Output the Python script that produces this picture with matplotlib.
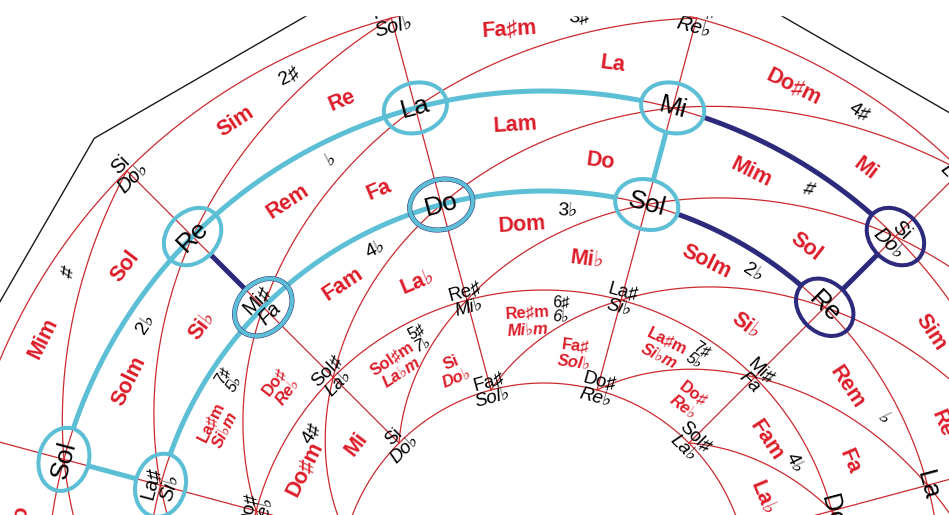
import numpy as np
import matplotlib
matplotlib.use('Agg')
import matplotlib.pyplot as plt
from matplotlib.patches import Ellipse, Polygon, Rectangle
from matplotlib import font_manager as fm

# ---------------- data ----------------
# note names around the circle of fifths (index = number of fifths above Do)
note_names = ['Do', 'Sol', 'Re', 'La', 'Mi', ('Si', 'Do♭'), ('Fa♯', 'Sol♭'), ('Do♯', 'Re♭'),
              ('Sol♯', 'La♭'), ('Re♯', 'Mi♭'), ('La♯', 'Si♭'), ('Mi♯', 'Fa')]
major_keys = ['Do', 'Sol', 'Re', 'La', 'Mi', ('Si', 'Do♭'), ('Fa♯', 'Sol♭'), ('Do♯', 'Re♭'),
              'La♭', 'Mi♭', 'Si♭', 'Fa']
minor_keys = ['Lam', 'Mim', 'Sim', 'Fa♯m', 'Do♯m', ('Sol♯m', 'La♭m'), ('Re♯m', 'Mi♭m'),
              ('La♯m', 'Si♭m'), 'Fam', 'Dom', 'Solm', 'Rem']
key_signatures = ['', '♯', '2♯', '3♯', '4♯', ('5♯', '7♭'), ('6♯', '6♭'), ('7♯', '5♭'),
                  '4♭', '3♭', '2♭', '♭']
# highlighted path: (ring, column) nodes
cyan_nodes = [(1, 0), (1, 1), (1, 2), (1, 3), (2, 0), (2, 1), (2, 2), (2, 3)]
navy_nodes = [(1, 4), (2, 4)]
mixed_nodes = [(2, 1), (2, 2)]
cyan_arcs = [(1, 0, 3), (2, 0, 3)]
navy_arcs = [(1, 3, 4), (2, 3, 4)]
cyan_radials = [0, 3]
navy_radials = [1, 4]

# ---------------- geometry ----------------
CX, CY = 544, 588
RADII = [590, 497, 397, 298, 205]
COLS = range(-2, 8)
W, H = 949, 515


def theta(j):
    return 165 - 30 * j


def P(r, th):
    a = np.deg2rad(th)
    return CX + r * np.cos(a), CY - r * np.sin(a)


RED = '#cc2a2e'
TRED = '#dc1c28'
CYAN = '#5cbfd5'
NAVY = '#2c2a7c'


def has_font(name):
    try:
        fm.findfont(fm.FontProperties(family=name), fallback_to_default=False)
        return True
    except Exception:
        return False


if has_font('Liberation Sans Narrow'):
    KFONT = ['Liberation Sans Narrow', 'DejaVu Sans']
    KSIZE, KSIZE2 = 17.5, 13.5
else:
    KFONT = ['Liberation Sans', 'DejaVu Sans']
    KSIZE, KSIZE2 = 15.5, 12
NFONT = ['Liberation Sans', 'DejaVu Sans']

fig = plt.figure(figsize=(9.49, 5.15), dpi=100)
ax = fig.add_axes([0, 0, 1, 1])
ax.set_xlim(0, W)
ax.set_ylim(H, 0)
ax.axis('off')

# outer polygon
poly = [P(636, 165 + 30 * k) for k in range(12)]
ax.add_patch(Polygon(poly, closed=True, fill=False, ec='#1a1a1a', lw=1.0, zorder=1))

# red circles
t = np.linspace(0, 360, 1441)
for r in RADII:
    x, y = P(r, t)
    ax.plot(x, y, color=RED, lw=0.9, zorder=1)

# radial lines
for j in COLS:
    x0, y0 = P(RADII[-1], theta(j))
    x1, y1 = P(RADII[0], theta(j))
    ax.plot([x0, x1], [y0, y1], color=RED, lw=0.9, zorder=1)

# diagonal (spiral) lines
s = np.linspace(0, 1, 60)
for k in range(len(RADII) - 1):
    for j in COLS:
        rr = RADII[k + 1] + (RADII[k] - RADII[k + 1]) * s
        tt = theta(j) - 30 * s
        x, y = P(rr, tt)
        ax.plot(x, y, color=RED, lw=0.9, zorder=1)


# highlighted path
def arc(ring, j0, j1, color):
    r = RADII[ring]
    d = np.rad2deg(31 / r)
    tt = np.linspace(theta(j0) - d, theta(j1) + d, 200)
    x, y = P(r, tt)
    ax.plot(x, y, color=color, lw=3.6, solid_capstyle='butt', zorder=3)


def radial(j, color):
    x0, y0 = P(RADII[1] - 25, theta(j))
    x1, y1 = P(RADII[2] + 25, theta(j))
    ax.plot([x0, x1], [y0, y1], color=color, lw=3.6, solid_capstyle='butt', zorder=3)


for ring, a, b in cyan_arcs:
    arc(ring, a, b, CYAN)
for ring, a, b in navy_arcs:
    arc(ring, a, b, NAVY)
for j in cyan_radials:
    radial(j, CYAN)
for j in navy_radials:
    radial(j, NAVY)


def ellipse(ring, j, color, lw=2.9):
    x, y = P(RADII[ring], theta(j))
    ax.add_patch(Ellipse((x, y), 64, 50, angle=90 - theta(j), fill=False,
                         ec=color, lw=lw, zorder=4))


for ring, j in mixed_nodes:
    ellipse(ring, j, NAVY, 3.6)
for ring, j in cyan_nodes:
    ellipse(ring, j, CYAN)
for ring, j in navy_nodes:
    ellipse(ring, j, NAVY)


def visible(x, y):
    return -8 <= x <= W + 8 and 5 <= y <= H + 10


def put(r, th, txt, size, color, weight, fam, d):
    if isinstance(txt, tuple):
        for part, dr, style in ((txt[0], d, 'normal'), (txt[1], -d, 'italic')):
            x, y = P(r + dr, th)
            if not visible(x, y):
                continue
            ax.text(x, y, part, fontsize=size, color=color, fontweight=weight,
                    fontstyle=style, family=fam, rotation=th - 90, rotation_mode='anchor',
                    ha='center', va='center', zorder=5)
    elif txt:
        x, y = P(r, th)
        if not visible(x, y):
            return
        ax.text(x, y, txt, fontsize=size, color=color, fontweight=weight,
                family=fam, rotation=th - 90, rotation_mode='anchor',
                ha='center', va='center', zorder=5)


# node labels
for k, r in enumerate(RADII):
    for j in COLS:
        n = (4 + j - 3 * k) % 12
        name = note_names[n]
        if isinstance(name, tuple):
            size = 14.5 if k <= 2 else 13.5
            put(r, theta(j), name, size, 'black', 'normal', NFONT, 9 if k <= 2 else 8)
        else:
            put(r, theta(j), name, 19 if k <= 2 else 18, 'black', 'normal', NFONT, 0)

# key labels inside cells
for b in range(len(RADII) - 1):
    ro, ri = RADII[b], RADII[b + 1]
    for c in COLS:
        n = (1 + c - 3 * b) % 12
        tl = theta(c)
        mn = minor_keys[n]
        mj = major_keys[n]
        sg = key_signatures[n]
        put((2 * ro + ri) / 3, tl - 11.5, mn, KSIZE2 if isinstance(mn, tuple) else KSIZE,
            TRED, 'bold', KFONT, 8)
        put((ro + 2 * ri) / 3, tl - 22.5, mj, KSIZE2 if isinstance(mj, tuple) else KSIZE,
            TRED, 'bold', KFONT, 8)
        put(ro - 19, tl - 18.5, sg, 11.5 if isinstance(sg, tuple) else 14,
            'black', 'normal', NFONT, 7)

# cropped top edge of the scan
ax.add_patch(Rectangle((0, 0), W, 15, color='white', zorder=10))

fig.savefig('out.png', dpi=100, facecolor='white')
